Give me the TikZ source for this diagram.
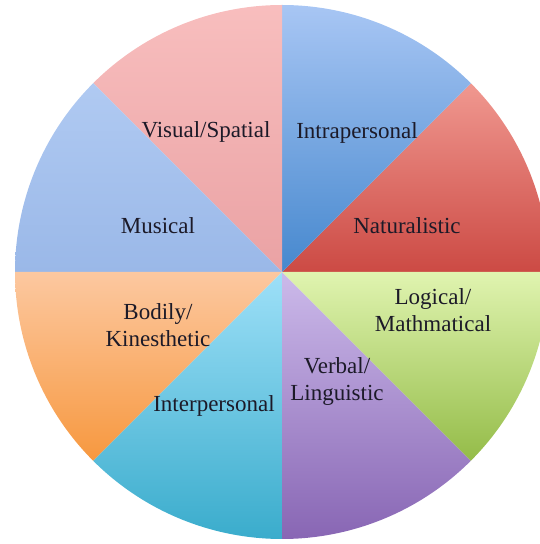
\documentclass[tikz,border=0pt]{standalone}
\usepackage{fontspec}
\setmainfont{Liberation Serif}
\definecolor{txt}{HTML}{1C1A28}
\tikzset{
  lbl/.style={font=\fontsize{23}{27}\selectfont, text=txt, align=center, inner sep=0pt},
}
\begin{document}
\begin{tikzpicture}[x=1pt,y=1pt]
\useasboundingbox (0,0) rectangle (540,544);
\clip (0,0) rectangle (540,544);
\coordinate (O) at (282,272);
\def\R{267}
% sectors
\shade[top color={rgb,255:red,240;green,152;blue,144}, bottom color={rgb,255:red,204;green,74;blue,68}]
  (O) -- ++(0:\R) arc (0:45:\R) -- cycle;
\shade[top color={rgb,255:red,168;green,198;blue,244}, bottom color={rgb,255:red,70;green,136;blue,206}]
  (O) -- ++(45:\R) arc (45:90:\R) -- cycle;
\shade[top color={rgb,255:red,248;green,190;blue,190}, bottom color={rgb,255:red,234;green,162;blue,164}]
  (O) -- ++(90:\R) arc (90:135:\R) -- cycle;
\shade[top color={rgb,255:red,176;green,202;blue,242}, bottom color={rgb,255:red,154;green,184;blue,232}]
  (O) -- ++(135:\R) arc (135:180:\R) -- cycle;
\shade[top color={rgb,255:red,252;green,200;blue,160}, bottom color={rgb,255:red,247;green,152;blue,63}]
  (O) -- ++(180:\R) arc (180:225:\R) -- cycle;
\shade[top color={rgb,255:red,158;green,224;blue,248}, bottom color={rgb,255:red,58;green,172;blue,204}]
  (O) -- ++(225:\R) arc (225:270:\R) -- cycle;
\shade[top color={rgb,255:red,204;green,186;blue,234}, bottom color={rgb,255:red,136;green,102;blue,180}]
  (O) -- ++(270:\R) arc (270:315:\R) -- cycle;
\shade[top color={rgb,255:red,224;green,244;blue,176}, bottom color={rgb,255:red,148;green,188;blue,72}]
  (O) -- ++(315:\R) arc (315:360:\R) -- cycle;
% labels
\node[lbl] (vis) at (206,412) {Visual/Spatial};
\node[lbl] (intra) at (357,411) {Intrapersonal};
\node[lbl] (mus) at (158,318) {Musical};
\node[lbl] (nat) at (407,318) {Naturalistic};
\node[lbl] (log) at (433,233.5) {Logical/\\Mathmatical};
\node[lbl] (bod) at (158,218.5) {Bodily/\\Kinesthetic};
\node[lbl] (verb) at (337,162) {Verbal/\\Linguistic};
\node[lbl] (inter) at (214,138) {Interpersonal};
\end{tikzpicture}
\end{document}
